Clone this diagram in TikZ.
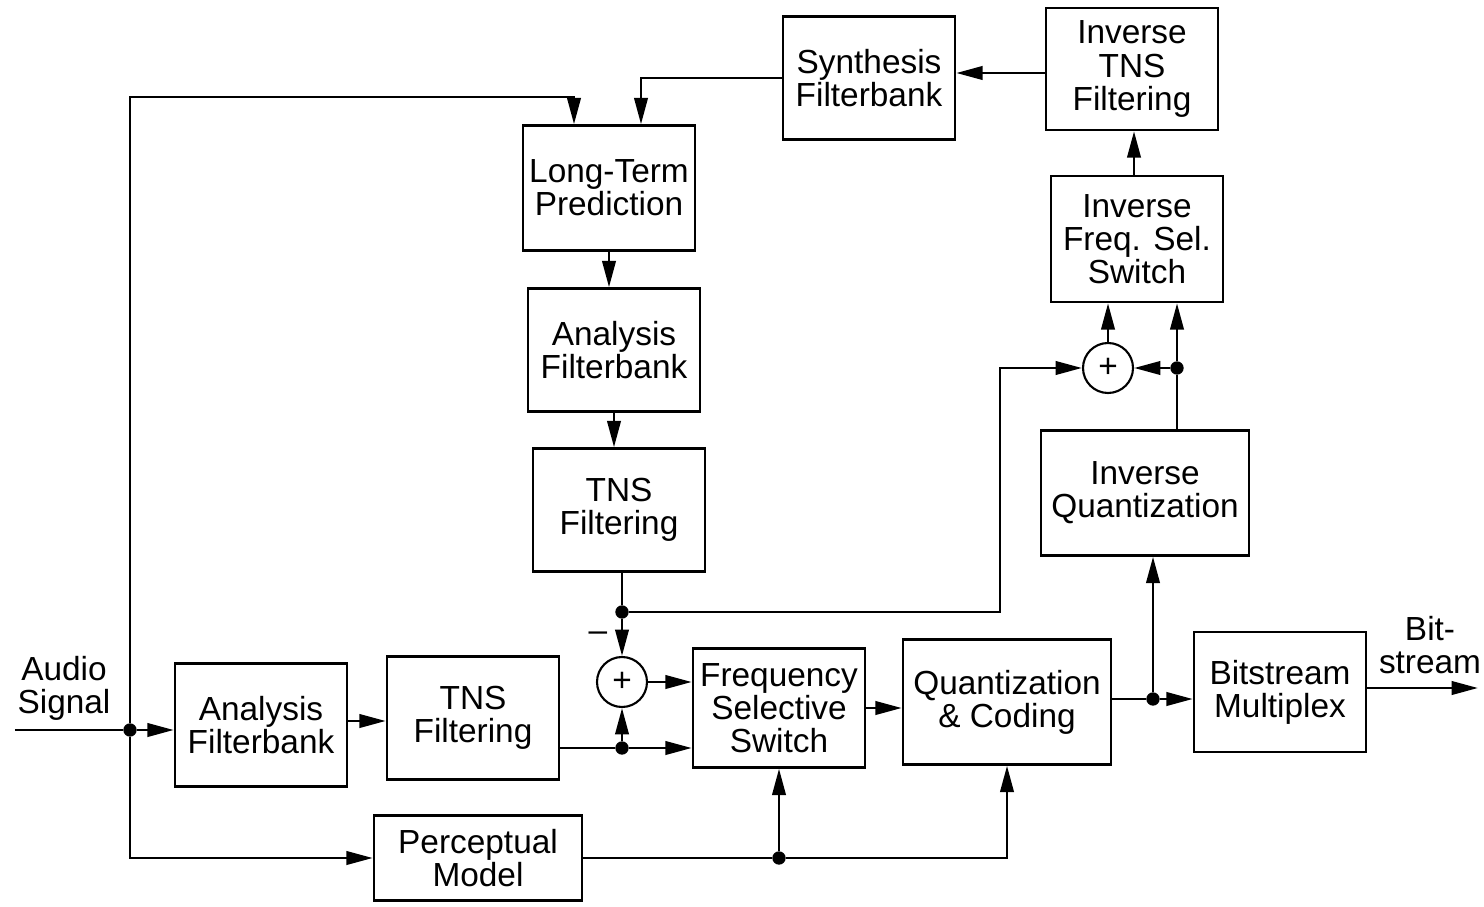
\documentclass[tikz,border=0pt]{standalone}
\usepackage{fontspec}
\setmainfont{Liberation Sans}
\usepackage{tikz}
\usetikzlibrary{
  arrows.meta,
  positioning,
  calc
}

\begin{document}
\begin{tikzpicture}[
  font=\fontsize{9.5pt}{9.4pt}\selectfont,
  blk/.style={draw, line width=0.7pt, minimum width=1.72cm, minimum height=1.23cm, align=center, inner sep=1pt},
  wblk/.style={blk, minimum width=2.08cm},
  sm/.style={circle, draw, line width=0.6pt, minimum size=0.5cm, inner sep=0pt},
  jn/.style={circle, fill, inner sep=0pt, minimum size=3.8pt},
  e/.style={-{Triangle[length=7.5pt,width=3.8pt]}, line width=0.8pt},
  ln/.style={line width=0.8pt}
]
  \useasboundingbox (0,0) rectangle (14.84,-9.07);
  % blocks
  \node[blk] (sf) at (8.69,-0.78) {Synthesis\\Filterbank};
  \node[blk, minimum height=1.22cm] (itns) at (11.32,-0.69) {Inverse\\TNS\\Filtering};
  \node[blk, minimum height=1.25cm] (ltp) at (6.09,-1.88) {Long-Term\\Prediction};
  \node[blk] (af2) at (6.14,-3.50) {Analysis\\Filterbank};
  \node[blk] (tns2) at (6.19,-5.10) {TNS\\Filtering};
  \node[blk, minimum height=1.26cm] (ifss) at (11.37,-2.39) {Inverse\\Freq. Sel.\\Switch};
  \node[sm] (s2) at (11.08,-3.68) {+};
  \node[wblk, minimum height=1.25cm] (iq) at (11.45,-4.93) {Inverse\\Quantization};
  \node[blk] (af1) at (2.61,-7.25) {Analysis\\Filterbank};
  \node[blk] (tns1) at (4.73,-7.18) {TNS\\Filtering};
  \node[sm] (s1) at (6.22,-6.82) {+};
  \node[blk, minimum height=1.19cm] (fss) at (7.79,-7.08) {Frequency\\Selective\\Switch};
  \node[wblk, minimum height=1.25cm] (qc) at (10.07,-7.02) {Quantization\\\& Coding};
  \node[blk, minimum height=1.20cm] (bm) at (12.80,-6.92) {Bitstream\\Multiplex};
  \node[wblk, minimum height=0.85cm] (pm) at (4.78,-8.58) {Perceptual\\Model};
  % labels
  \node[align=center] (in) at (0.64,-6.88) {Audio\\Signal};
  \node[align=center] (outl) at (14.30,-6.45) {Bit-\\stream};
  \node (minus) at (5.98,-6.37) {--};
  \coordinate (src) at (0.15,-7.30);
  \coordinate (out) at (14.78,-6.88);
  % junctions
  \node[jn] (j1) at (1.30,-7.30) {};
  \node[jn] (j2) at (6.22,-7.48) {};
  \node[jn] (j3) at (6.22,-6.12) {};
  \node[jn] (j4) at (11.53,-6.99) {};
  \node[jn] (j5) at (11.77,-3.68) {};
  \node[jn] (j6) at (pm.east -| fss.south) {};
  % input side
  \draw[ln] (src) -- (j1);
  \draw[e] (j1) -- (j1 -| af1.west);
  \draw[e] (j1) |- (pm.west);
  \draw[e] (j1) -- (1.30,-0.97) -| ([xshift=-3.5mm]ltp.north);
  \draw[e] (af1.east |- 0,-7.21) -- (tns1.west |- 0,-7.21);
  \draw[ln] (tns1.east |- j2) -- (j2);
  \draw[e] (j2) -- (j2 -| fss.west);
  \draw[e] (j2) -- (s1);
  \draw[e] (s1) -- (s1 -| fss.west);
  % prediction loop
  \draw[e] (sf.west) -| ([xshift=3.2mm]ltp.north);
  \draw[e] (ltp.south |- 0,-2.51) -- (ltp.south |- af2.north);
  \draw[e] (af2.south |- 0,-4.11) -- (af2.south |- tns2.north);
  \draw[ln] (j3 |- tns2.south) -- (j3);
  \draw[e] (j3) -- (s1);
  \draw[e] (j3) -- ++(3.78,0) |- (s2);
  % coder
  \draw[e] (fss.east) -- (fss.east -| qc.west);
  \draw[ln] (qc.east |- j4) -- (j4);
  \draw[e] (j4) -- (j4 -| bm.west);
  \draw[e] (j4) -- (j4 |- iq.south);
  \draw[e] (bm.east |- out) -- (out);
  \draw[ln] (pm.east) -- (j6);
  \draw[e] (j6) -- (fss);
  \draw[e] (j6) -| (qc.south);
  % decoder
  \draw[ln] (j5 |- iq.north) -- (j5);
  \draw[e] (j5) -- (s2);
  \draw[e] (j5) -- (j5 |- ifss.south);
  \draw[e] (s2) -- (s2 |- ifss.south);
  \draw[e] (ifss.north -| 11.34,0) -- (itns.south -| 11.34,0);
  \draw[e] (itns.west |- 0,-0.73) -- (sf.east |- 0,-0.73);
\end{tikzpicture}
\end{document}
